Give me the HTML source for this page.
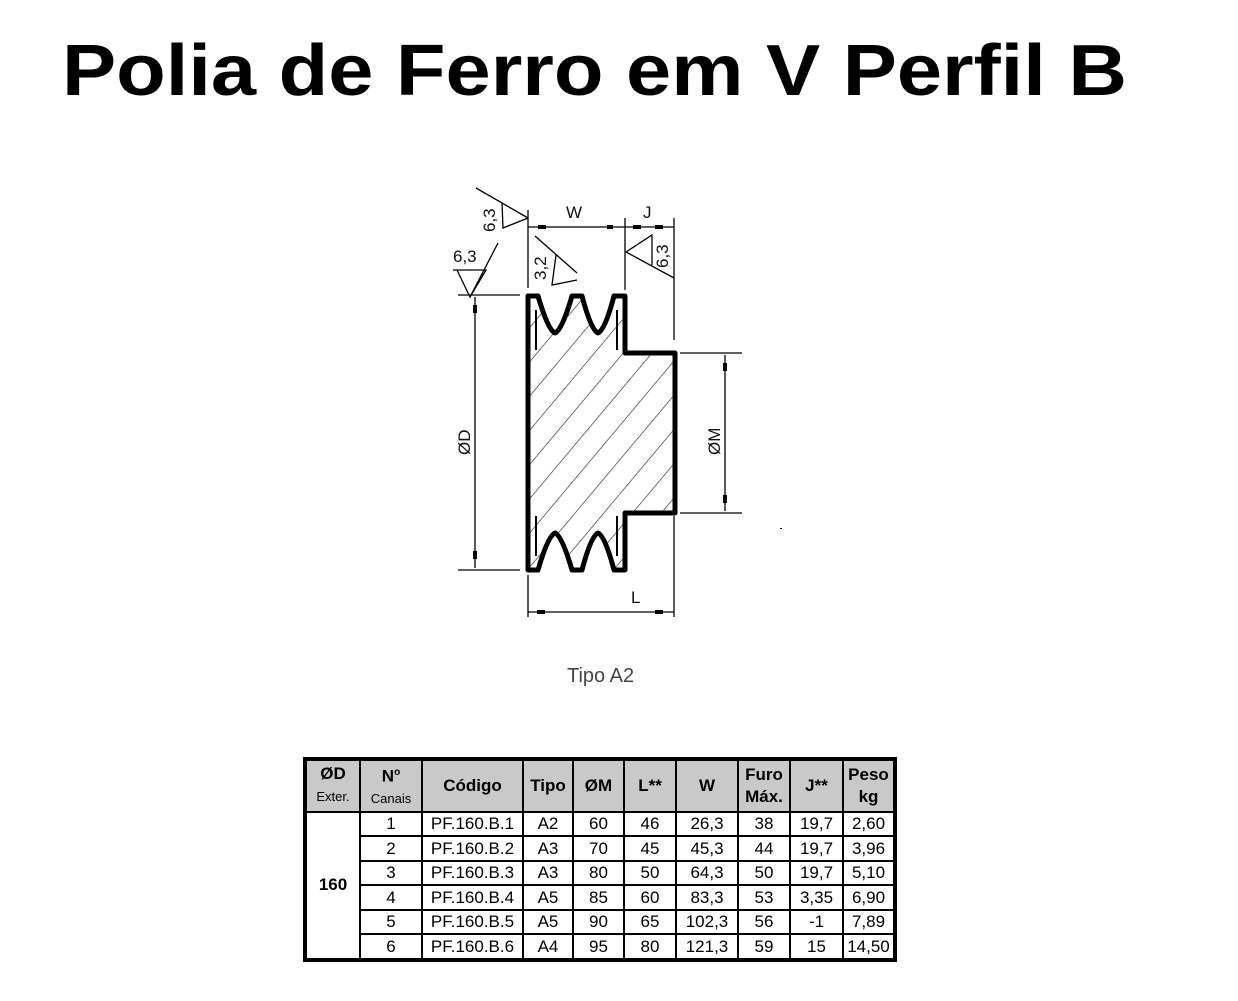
<!DOCTYPE html>
<html><head><meta charset="utf-8"><style>
html,body{margin:0;padding:0;background:#fff;}
body{width:1238px;height:1001px;position:relative;overflow:hidden;font-family:"Liberation Sans",sans-serif;}
table{position:absolute;left:303px;top:757px;width:590px;height:205px;border-collapse:collapse;border:4px solid #000;table-layout:fixed;}
td{border:2px solid #000;text-align:center;font-size:17px;padding:0;height:22px;line-height:20px;overflow:hidden;white-space:nowrap;}
tr.h td{background:#c9c9c9;font-weight:bold;height:48px;line-height:22px;}
small{font-size:13px;}
</style></head><body>
<svg width="1238" height="1001" style="position:absolute;left:0;top:0">
<text x="62" y="95" font-family="Liberation Sans, sans-serif" font-weight="bold" font-size="72" textLength="1065" lengthAdjust="spacingAndGlyphs">Polia de Ferro em V Perfil B</text>
<defs><pattern id="h" width="22" height="22" patternUnits="userSpaceOnUse" patternTransform="rotate(-50)"><line x1="0" y1="0" x2="22" y2="0" stroke="#222" stroke-width="1.2"/></pattern></defs>
<g stroke="#000" fill="none" stroke-width="1.3">
<line x1="458" y1="295" x2="520" y2="295"/><line x1="458" y1="570" x2="520" y2="570"/>
<line x1="475" y1="297" x2="475" y2="568"/>
<line x1="680" y1="353" x2="742" y2="353"/><line x1="680" y1="513" x2="742" y2="513"/>
<line x1="725" y1="355" x2="725" y2="511"/>
<line x1="528" y1="575" x2="528" y2="617"/><line x1="674" y1="516" x2="674" y2="617"/>
<line x1="528" y1="612" x2="674" y2="612"/>
<line x1="528" y1="210" x2="528" y2="288"/><line x1="625" y1="218" x2="625" y2="290"/><line x1="674" y1="218" x2="674" y2="340"/>
<line x1="528" y1="227" x2="674" y2="227"/>
<line x1="476" y1="188" x2="528" y2="218"/><polyline points="502,203 503,228 528,218"/>
<line x1="498" y1="243" x2="470" y2="297"/><polyline points="453,270 486,270 470,297 457,270"/>
<line x1="535" y1="236" x2="577" y2="273"/><polyline points="556,255 552,285 577,280"/>
<line x1="674" y1="278" x2="626" y2="252"/><polyline points="626,252 652,235 652,265"/>
</g>
<g fill="#000"><rect x="538" y="225" width="8" height="4"/><rect x="607" y="225" width="6" height="4"/><rect x="633" y="225" width="8" height="4"/><rect x="655" y="225" width="8" height="4"/>
<rect x="473" y="305" width="4" height="8"/><rect x="473" y="551" width="4" height="8"/><rect x="723" y="363" width="4" height="8"/><rect x="723" y="495" width="4" height="8"/>
<rect x="537" y="610" width="8" height="4"/><rect x="655" y="610" width="8" height="4"/></g>
<path d="M528,296 L538,296 Q548,330 555,333 Q562,330 572,296 L582,296 Q591,330 598,333 Q605,330 614,296 L625,296 L625,353 L675,353 L675,513 L625,513 L625,570 L614,570 Q605,536 598,533 Q591,536 582,570 L572,570 Q562,536 555,533 Q548,536 538,570 L528,570 Z" fill="url(#h)" stroke="#000" stroke-width="5" stroke-linejoin="round"/>
<g stroke="#000" stroke-width="2" fill="none"><line x1="536" y1="310" x2="536" y2="350"/><line x1="617" y1="310" x2="617" y2="350"/><line x1="536" y1="516" x2="536" y2="556"/><line x1="617" y1="516" x2="617" y2="556"/></g>
<g font-family="Liberation Sans, sans-serif" font-size="17" fill="#111">
<text x="566" y="218">W</text><text x="643" y="218">J</text><text x="631" y="603">L</text>
<text x="453" y="262">6,3</text>
<text transform="translate(495,232) rotate(-90)">6,3</text>
<text transform="translate(546,280) rotate(-90)">3,2</text>
<text transform="translate(668,268) rotate(-90)">6,3</text>
<text transform="translate(470,455) rotate(-90)">ØD</text>
<text transform="translate(720,455) rotate(-90)">ØM</text>
<text x="567" y="682" font-size="20" fill="#444">Tipo A2</text>
</g>
<rect x="780" y="528" width="2" height="1" fill="#000"/>
</svg>
<table>
<colgroup><col style="width:55px"><col style="width:62px"><col style="width:101px"><col style="width:50px"><col style="width:51px"><col style="width:52px"><col style="width:62px"><col style="width:52px"><col style="width:53px"><col style="width:52px"></colgroup>
<tr class="h"><td>ØD<br><small style="font-weight:normal">Exter.</small></td><td>N<sup style="font-size:10px">o</sup><br><small style="font-weight:normal">Canais</small></td><td>Código</td><td>Tipo</td><td>ØM</td><td>L**</td><td>W</td><td>Furo<br>Máx.</td><td>J**</td><td>Peso<br>kg</td></tr>
<tr><td rowspan="6" style="font-weight:bold">160</td><td>1</td><td>PF.160.B.1</td><td>A2</td><td>60</td><td>46</td><td>26,3</td><td>38</td><td>19,7</td><td>2,60</td></tr>
<tr><td>2</td><td>PF.160.B.2</td><td>A3</td><td>70</td><td>45</td><td>45,3</td><td>44</td><td>19,7</td><td>3,96</td></tr>
<tr><td>3</td><td>PF.160.B.3</td><td>A3</td><td>80</td><td>50</td><td>64,3</td><td>50</td><td>19,7</td><td>5,10</td></tr>
<tr><td>4</td><td>PF.160.B.4</td><td>A5</td><td>85</td><td>60</td><td>83,3</td><td>53</td><td>3,35</td><td>6,90</td></tr>
<tr><td>5</td><td>PF.160.B.5</td><td>A5</td><td>90</td><td>65</td><td>102,3</td><td>56</td><td>-1</td><td>7,89</td></tr>
<tr><td>6</td><td>PF.160.B.6</td><td>A4</td><td>95</td><td>80</td><td>121,3</td><td>59</td><td>15</td><td>14,50</td></tr>
</table>
</body></html>
